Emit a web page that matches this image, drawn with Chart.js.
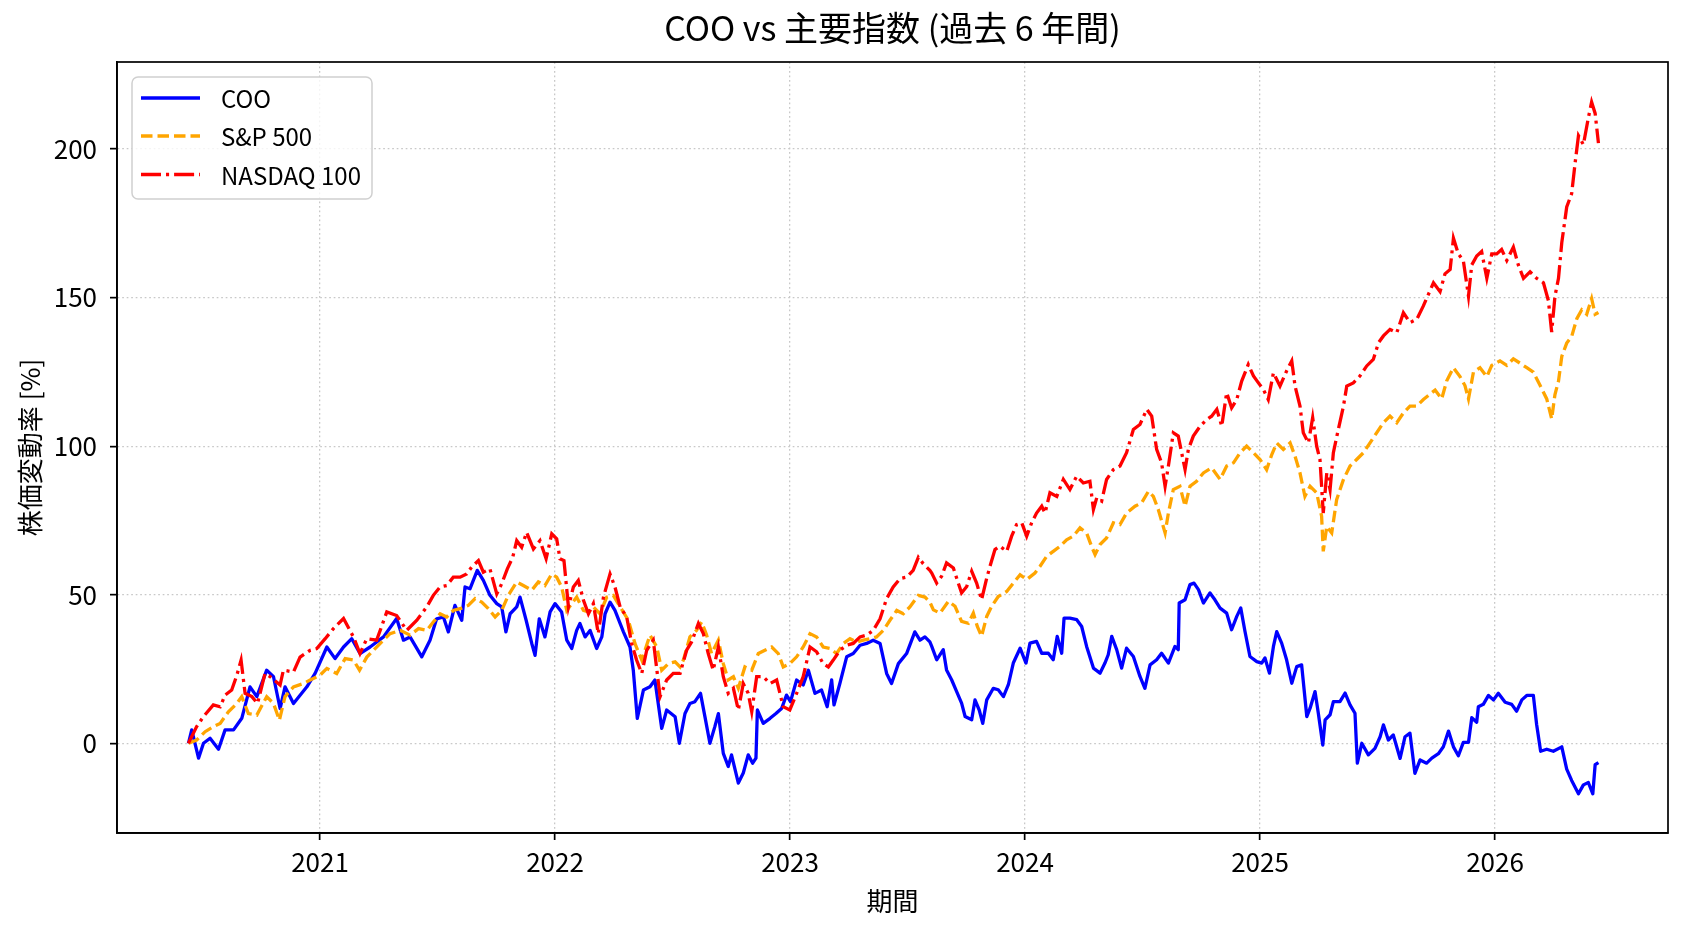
<!DOCTYPE html>
<html lang="ja">
<head>
<meta charset="utf-8">
<title>COO vs 主要指数</title>
<script src="https://cdn.jsdelivr.net/npm/chart.js@4.4.1/dist/chart.umd.min.js"></script>
<style>
  html, body { margin: 0; padding: 0; background: #fff; }
  #wrap { width: 1688px; height: 932px; position: relative; }
</style>
</head>
<body>
<div id="wrap"><canvas id="perfChart"></canvas></div>
<script>
// values: [decimal year, % change]
const seriesNames = ['COO', 'S&P 500', 'NASDAQ 100'];
const chartTitle = 'COO vs 主要指数 (過去 6 年間)';
const yearTicks = [2021, 2022, 2023, 2024, 2025, 2026];
const valueTicks = [0, 50, 100, 150, 200];

const cooData = [
  [2020.440, 0], [2020.454, 4.5], [2020.483, -5], [2020.504, 0], [2020.532, 1.7], [2020.568, -2],
  [2020.596, 4.5], [2020.632, 4.5], [2020.667, 8.4], [2020.702, 19], [2020.731, 15.7], [2020.773, 24.6],
  [2020.802, 22.4], [2020.830, 11.7], [2020.851, 19], [2020.887, 13.4], [2020.944, 19], [2020.979, 23.5],
  [2021.029, 32.4], [2021.064, 28.5], [2021.100, 32.4], [2021.135, 35.2], [2021.170, 30.2], [2021.213, 32.4],
  [2021.270, 35.8], [2021.326, 42], [2021.355, 34.7], [2021.383, 35.8], [2021.433, 29.1], [2021.468, 34.7],
  [2021.496, 41.9], [2021.525, 42.5], [2021.546, 37.5], [2021.574, 46.4], [2021.603, 41.4], [2021.617, 52.6],
  [2021.638, 52], [2021.669, 58.2], [2021.695, 54.8], [2021.723, 49.8], [2021.752, 47], [2021.773, 45.9],
  [2021.791, 37.5], [2021.809, 43.6], [2021.837, 45.9], [2021.851, 49.2], [2021.877, 41.4], [2021.901, 33.6],
  [2021.915, 29.6], [2021.933, 41.9], [2021.957, 35.8], [2021.979, 44.2], [2022.000, 47], [2022.028, 44.2],
  [2022.050, 34.7], [2022.071, 31.9], [2022.092, 38], [2022.106, 40.3], [2022.128, 35.8], [2022.149, 38],
  [2022.177, 31.9], [2022.199, 35.8], [2022.213, 43.6], [2022.234, 47.5], [2022.255, 44.7], [2022.291, 37.5],
  [2022.319, 32.4], [2022.333, 24.6], [2022.350, 8.4], [2022.376, 17.9], [2022.404, 19], [2022.425, 21.3],
  [2022.454, 5], [2022.475, 11.2], [2022.511, 8.9], [2022.529, 0], [2022.553, 10], [2022.574, 13.4],
  [2022.595, 14], [2022.619, 16.8], [2022.638, 8.9], [2022.659, 0], [2022.680, 5.6], [2022.695, 10],
  [2022.716, -3.4], [2022.737, -7.8], [2022.751, -3.9], [2022.780, -13.4], [2022.801, -10], [2022.822, -3.9],
  [2022.841, -6.7], [2022.855, -5], [2022.861, 11.2], [2022.886, 6.7], [2022.915, 8.4], [2022.940, 10],
  [2022.964, 11.7], [2022.985, 16.2], [2023.002, 14], [2023.028, 21.3], [2023.056, 19.6], [2023.078, 24.6],
  [2023.106, 16.8], [2023.134, 17.9], [2023.158, 12.3], [2023.177, 21.3], [2023.187, 12.9], [2023.212, 20.1],
  [2023.241, 29.1], [2023.269, 30.2], [2023.298, 33], [2023.326, 33.6], [2023.354, 34.7], [2023.383, 33.6],
  [2023.411, 23.5], [2023.432, 20.1], [2023.461, 26.8], [2023.496, 30.2], [2023.531, 37.5], [2023.553, 34.7],
  [2023.574, 35.8], [2023.595, 34.1], [2023.603, 32.6], [2023.624, 28.1], [2023.652, 31.5], [2023.666, 24.7],
  [2023.688, 21.3], [2023.709, 17.4], [2023.730, 13.5], [2023.745, 9], [2023.773, 7.9], [2023.787, 14.6],
  [2023.805, 11.2], [2023.820, 6.7], [2023.837, 14.6], [2023.865, 18.5], [2023.886, 18], [2023.908, 15.7],
  [2023.929, 19.7], [2023.950, 27], [2023.979, 32], [2024.004, 27], [2024.021, 33.7], [2024.049, 34.3],
  [2024.071, 30.3], [2024.099, 30.3], [2024.120, 28.1], [2024.137, 36], [2024.156, 30.3], [2024.166, 42.1],
  [2024.191, 42.1], [2024.220, 41.6], [2024.241, 39.3], [2024.262, 32.6], [2024.291, 25.3], [2024.319, 23.6],
  [2024.340, 27], [2024.354, 29.8], [2024.369, 36], [2024.390, 31.5], [2024.411, 25.3], [2024.432, 32],
  [2024.461, 29.2], [2024.489, 22.5], [2024.510, 18.5], [2024.532, 26.4], [2024.560, 28.1], [2024.581, 30.3],
  [2024.610, 27], [2024.638, 32.6], [2024.652, 31.5], [2024.656, 47.2], [2024.681, 48.3], [2024.702, 53.4],
  [2024.719, 53.9], [2024.738, 51.7], [2024.759, 47.2], [2024.787, 50.6], [2024.808, 48.3], [2024.830, 45.5],
  [2024.858, 43.8], [2024.879, 38.2], [2024.901, 42.7], [2024.918, 45.5], [2024.936, 37.6], [2024.957, 29.2],
  [2024.986, 27.5], [2025.007, 27], [2025.021, 28.7], [2025.040, 23.6], [2025.057, 32.6], [2025.071, 37.6],
  [2025.092, 33.7], [2025.113, 28.1], [2025.135, 20.2], [2025.156, 25.8], [2025.177, 26.4], [2025.199, 9],
  [2025.213, 11.8], [2025.234, 17.4], [2025.248, 10.1], [2025.267, -0.6], [2025.277, 7.9], [2025.298, 9.6],
  [2025.312, 14], [2025.340, 14], [2025.362, 16.9], [2025.383, 12.9], [2025.404, 10.1], [2025.414, -6.7],
  [2025.433, 0], [2025.461, -3.9], [2025.489, -1.7], [2025.511, 2.2], [2025.525, 6.2], [2025.546, 1.1],
  [2025.567, 2.8], [2025.596, -5.1], [2025.617, 2.2], [2025.638, 3.4], [2025.659, -10.1], [2025.681, -5.6],
  [2025.709, -6.7], [2025.731, -5], [2025.759, -3.5], [2025.780, -1.2], [2025.802, 4.1], [2025.823, -1.2],
  [2025.844, -4.2], [2025.865, 0.3], [2025.887, 0.3], [2025.901, 8.6], [2025.922, 7.1], [2025.929, 12.3],
  [2025.950, 13.1], [2025.972, 16.1], [2025.993, 14.6], [2026.014, 16.8], [2026.043, 13.8], [2026.071, 13.1],
  [2026.092, 10.8], [2026.114, 14.6], [2026.135, 16.1], [2026.163, 16.1], [2026.177, 6.3], [2026.194, -2.7],
  [2026.220, -2], [2026.248, -2.7], [2026.284, -1.2], [2026.305, -8.7], [2026.326, -12.5], [2026.355, -17],
  [2026.376, -14], [2026.397, -13.2], [2026.416, -17], [2026.426, -7.2], [2026.440, -6.5]
];

const spData = [
  [2020.440, 0], [2020.475, 1.1], [2020.511, 3.9], [2020.546, 5.6], [2020.575, 6.7], [2020.610, 10.6],
  [2020.646, 13.4], [2020.667, 15.7], [2020.695, 10], [2020.731, 9.5], [2020.773, 15.7], [2020.802, 13.4],
  [2020.827, 7.8], [2020.851, 15.7], [2020.887, 19], [2020.929, 20.1], [2020.958, 21.3], [2021.000, 22.9],
  [2021.029, 25.2], [2021.071, 23.5], [2021.107, 28.5], [2021.142, 28], [2021.168, 24.6], [2021.199, 29],
  [2021.227, 31.3], [2021.270, 34.7], [2021.298, 36.9], [2021.341, 38], [2021.383, 36.4], [2021.419, 38.6],
  [2021.454, 38], [2021.482, 40.8], [2021.511, 43.6], [2021.539, 42.5], [2021.567, 44.7], [2021.596, 45.3],
  [2021.631, 46.4], [2021.660, 48.7], [2021.688, 47.5], [2021.716, 45.3], [2021.745, 42.5], [2021.773, 44.7],
  [2021.801, 49.8], [2021.837, 54.3], [2021.865, 53.1], [2021.901, 51.5], [2021.929, 54.3], [2021.957, 53.1],
  [2021.986, 57], [2022.007, 55.9], [2022.028, 52.6], [2022.050, 44.7], [2022.071, 47], [2022.092, 49.2],
  [2022.121, 44.7], [2022.142, 44.2], [2022.163, 45.9], [2022.191, 43.6], [2022.220, 49.2], [2022.248, 49.8],
  [2022.277, 45.9], [2022.312, 41.4], [2022.340, 33.6], [2022.369, 28], [2022.404, 36.4], [2022.433, 32.4],
  [2022.454, 24.6], [2022.482, 26.8], [2022.511, 27.4], [2022.532, 25.7], [2022.546, 28], [2022.574, 35.8],
  [2022.602, 38], [2022.624, 40.8], [2022.645, 36.4], [2022.666, 30.2], [2022.695, 34.7], [2022.716, 26.8],
  [2022.737, 21.3], [2022.759, 22.4], [2022.780, 18.5], [2022.808, 25.7], [2022.837, 24.6], [2022.865, 30.2],
  [2022.893, 31.3], [2022.922, 32.4], [2022.950, 30.2], [2022.971, 25.7], [2022.999, 26.8], [2023.028, 29.1],
  [2023.056, 32.4], [2023.085, 36.9], [2023.113, 35.8], [2023.141, 32.4], [2023.170, 31.9], [2023.198, 30.2],
  [2023.227, 33.6], [2023.255, 35.2], [2023.283, 34.1], [2023.312, 34.7], [2023.340, 35.2], [2023.368, 35.8],
  [2023.397, 38], [2023.425, 41.4], [2023.454, 44.7], [2023.482, 43.6], [2023.510, 45.9], [2023.546, 49.8],
  [2023.574, 49.2], [2023.595, 47.5], [2023.610, 44.9], [2023.638, 43.8], [2023.674, 47.8], [2023.702, 46.1],
  [2023.730, 41], [2023.759, 40.4], [2023.780, 43.8], [2023.797, 39.3], [2023.815, 36], [2023.837, 42.7],
  [2023.858, 46.1], [2023.886, 49.4], [2023.922, 51.1], [2023.950, 53.9], [2023.979, 56.7], [2024.007, 55.1],
  [2024.042, 57.3], [2024.064, 59.6], [2024.092, 62.9], [2024.120, 64.6], [2024.149, 66.3], [2024.177, 68.5],
  [2024.205, 69.7], [2024.234, 72.5], [2024.262, 70.8], [2024.283, 66.3], [2024.298, 63.5], [2024.319, 66.9],
  [2024.347, 69.1], [2024.376, 74.2], [2024.404, 73.6], [2024.432, 77.5], [2024.468, 79.8], [2024.496, 80.9],
  [2024.525, 84.8], [2024.546, 83.1], [2024.567, 78.7], [2024.596, 70.8], [2024.610, 77.5], [2024.631, 85.4],
  [2024.659, 86.5], [2024.681, 79.8], [2024.702, 86.5], [2024.730, 88.2], [2024.759, 91], [2024.794, 92.7],
  [2024.830, 88.8], [2024.858, 93.3], [2024.887, 94.4], [2024.915, 97.8], [2024.943, 100], [2024.972, 97.8],
  [2025.000, 95.5], [2025.028, 92.1], [2025.050, 97.2], [2025.071, 101.1], [2025.099, 98.9], [2025.128, 101.1],
  [2025.149, 96.6], [2025.170, 91], [2025.191, 83.1], [2025.213, 86.5], [2025.241, 84.3], [2025.262, 76.4],
  [2025.269, 64.6], [2025.284, 73], [2025.305, 70.8], [2025.326, 82], [2025.355, 88.8], [2025.383, 93.3],
  [2025.411, 95.5], [2025.440, 97.8], [2025.468, 101.1], [2025.496, 104.5], [2025.525, 107.9], [2025.553, 110.1],
  [2025.582, 107.9], [2025.610, 111.2], [2025.638, 113.5], [2025.667, 113.5], [2025.695, 115.7], [2025.745, 118.9],
  [2025.773, 115.9], [2025.794, 121.9], [2025.823, 126.4], [2025.851, 123.4], [2025.872, 120.4], [2025.887, 115.9],
  [2025.908, 124.9], [2025.936, 126.4], [2025.965, 123.4], [2025.986, 127.2], [2026.021, 128.7], [2026.050, 127.2],
  [2026.078, 129.4], [2026.107, 127.9], [2026.135, 126.4], [2026.163, 124.9], [2026.192, 120.4], [2026.220, 115.9],
  [2026.241, 109.2], [2026.255, 117.4], [2026.270, 121.9], [2026.284, 130.2], [2026.305, 134.7], [2026.326, 136.9],
  [2026.348, 142.9], [2026.369, 145.9], [2026.390, 144.4], [2026.411, 149.7], [2026.426, 144.4], [2026.440, 145]
];

const ndxData = [
  [2020.440, 0], [2020.475, 5.6], [2020.504, 9], [2020.546, 12.9], [2020.575, 12.3], [2020.596, 16.2],
  [2020.624, 17.9], [2020.646, 22.9], [2020.664, 28], [2020.681, 16.8], [2020.710, 15.7], [2020.734, 13.4],
  [2020.766, 23.5], [2020.788, 22.4], [2020.830, 19.6], [2020.844, 24.6], [2020.887, 24], [2020.915, 29],
  [2020.958, 31.3], [2020.986, 31.9], [2021.022, 35.2], [2021.057, 38.6], [2021.100, 42], [2021.142, 35.8],
  [2021.170, 30.2], [2021.199, 35.2], [2021.241, 34.7], [2021.284, 44.2], [2021.326, 43], [2021.369, 38],
  [2021.412, 41.4], [2021.454, 45.9], [2021.482, 49.8], [2021.511, 52.6], [2021.539, 53.1], [2021.567, 55.9],
  [2021.596, 55.9], [2021.624, 57], [2021.645, 59.3], [2021.674, 61.5], [2021.695, 57.6], [2021.723, 58.7],
  [2021.752, 50.3], [2021.773, 53.7], [2021.797, 58.7], [2021.820, 62.6], [2021.837, 68.2], [2021.858, 66],
  [2021.879, 71], [2021.908, 65.4], [2021.936, 68.2], [2021.962, 62.1], [2021.986, 70.5], [2022.007, 68.8],
  [2022.021, 62.1], [2022.038, 61.5], [2022.057, 45.9], [2022.078, 52.6], [2022.099, 54.8], [2022.121, 48.1],
  [2022.142, 43.6], [2022.163, 47], [2022.184, 36.9], [2022.206, 49.2], [2022.234, 57], [2022.255, 52.6],
  [2022.277, 45.9], [2022.305, 42.5], [2022.326, 33.6], [2022.347, 28], [2022.369, 23.5], [2022.390, 31.3],
  [2022.418, 34.7], [2022.447, 15.7], [2022.475, 21.3], [2022.503, 23.5], [2022.532, 23.5], [2022.560, 31.3],
  [2022.581, 34.1], [2022.610, 40.3], [2022.631, 36.9], [2022.652, 30.2], [2022.673, 24.6], [2022.695, 32.4],
  [2022.716, 22.4], [2022.737, 16.8], [2022.759, 18.5], [2022.780, 11.2], [2022.801, 20.1], [2022.822, 16.8],
  [2022.837, 10.6], [2022.858, 22.4], [2022.886, 22.4], [2022.915, 20.1], [2022.943, 21.3], [2022.971, 12.3],
  [2022.999, 11.2], [2023.028, 16.8], [2023.056, 22.4], [2023.085, 32.4], [2023.113, 30.8], [2023.141, 26.8],
  [2023.163, 25.7], [2023.184, 28], [2023.212, 31.3], [2023.241, 33], [2023.269, 33.6], [2023.298, 35.8],
  [2023.326, 36.4], [2023.354, 38], [2023.383, 41.9], [2023.411, 48.7], [2023.439, 52.6], [2023.468, 55.4],
  [2023.496, 55.9], [2023.524, 58.2], [2023.546, 62.6], [2023.567, 60.4], [2023.595, 58.2], [2023.603, 57.3],
  [2023.624, 53.9], [2023.645, 56.2], [2023.666, 60.7], [2023.695, 59], [2023.716, 53.9], [2023.730, 50.6],
  [2023.752, 52.8], [2023.773, 57.9], [2023.794, 53.9], [2023.815, 48.3], [2023.837, 55.6], [2023.851, 59.6],
  [2023.872, 65.2], [2023.893, 66.3], [2023.922, 64.6], [2023.943, 69.7], [2023.964, 73.6], [2023.986, 74.2],
  [2024.007, 69.7], [2024.028, 74.2], [2024.049, 77.5], [2024.071, 79.8], [2024.085, 77.5], [2024.106, 84.3],
  [2024.135, 83.1], [2024.163, 88.8], [2024.191, 85.4], [2024.220, 89.9], [2024.248, 87.6], [2024.276, 88.2],
  [2024.291, 78.7], [2024.305, 82.6], [2024.326, 81.5], [2024.347, 88.8], [2024.376, 92.1], [2024.404, 93.3],
  [2024.432, 97.8], [2024.461, 105.6], [2024.489, 107.3], [2024.518, 112.4], [2024.539, 110.1], [2024.560, 98.9],
  [2024.581, 94.4], [2024.596, 86.5], [2024.610, 93.3], [2024.631, 104.5], [2024.652, 103.4], [2024.681, 92.1],
  [2024.695, 98.9], [2024.716, 103.4], [2024.745, 106.7], [2024.773, 109], [2024.794, 110.1], [2024.816, 112.4],
  [2024.837, 106.7], [2024.858, 118], [2024.879, 112.9], [2024.901, 115.7], [2024.922, 121.9], [2024.950, 127.5],
  [2024.972, 123.6], [2024.993, 121.3], [2025.014, 119.1], [2025.035, 115.7], [2025.057, 124.7], [2025.085, 120.2],
  [2025.113, 125.3], [2025.135, 128.7], [2025.149, 120.2], [2025.170, 113.5], [2025.184, 104.5], [2025.206, 101.1],
  [2025.224, 109.6], [2025.241, 100], [2025.255, 95.5], [2025.269, 77.5], [2025.284, 91], [2025.298, 85.4],
  [2025.312, 97.8], [2025.333, 105.6], [2025.355, 113.5], [2025.369, 120.2], [2025.397, 121.3], [2025.425, 123.6],
  [2025.454, 127], [2025.482, 129.2], [2025.504, 134.8], [2025.525, 137.1], [2025.553, 139.3], [2025.582, 138.2],
  [2025.610, 144.9], [2025.638, 141.6], [2025.667, 142.7], [2025.695, 147.2], [2025.738, 155], [2025.766, 152],
  [2025.787, 158], [2025.809, 159.5], [2025.823, 170], [2025.844, 164.7], [2025.865, 162.5], [2025.887, 150.5],
  [2025.901, 161], [2025.922, 164], [2025.943, 165.5], [2025.965, 156.5], [2025.986, 164.7], [2026.007, 164.7],
  [2026.028, 166.2], [2026.050, 162.5], [2026.078, 167], [2026.099, 161], [2026.121, 156.5], [2026.149, 158.7],
  [2026.177, 156.5], [2026.206, 155], [2026.227, 149], [2026.241, 138.4], [2026.255, 150.5], [2026.270, 156.5],
  [2026.284, 168.5], [2026.305, 180.5], [2026.326, 185], [2026.341, 195.5], [2026.355, 204.5], [2026.376, 201.5],
  [2026.397, 210.5], [2026.411, 215.8], [2026.426, 212], [2026.440, 202]
];

const FONT = "'Liberation Sans Narrow', 'Noto Sans CJK JP', sans-serif";
const LW = 3.3;

Chart.defaults.font.family = FONT;
Chart.defaults.color = '#000';

function toPoints(rows) {
  return rows.map(r => ({ x: r[0], y: r[1] }));
}

// title centred over the axes, frame on four sides, boxed legend
const mplDecor = {
  id: 'mplDecor',
  afterDraw(chart) {
    const { ctx, chartArea } = chart;
    ctx.save();
    ctx.strokeStyle = '#000';
    ctx.lineWidth = 1.7;
    ctx.strokeRect(chartArea.left, chartArea.top, chartArea.right - chartArea.left, chartArea.bottom - chartArea.top);

    ctx.fillStyle = '#000';
    ctx.font = '34px ' + FONT;
    ctx.textAlign = 'center';
    ctx.textBaseline = 'middle';
    ctx.fillText(chartTitle, (chartArea.left + chartArea.right) / 2, 28);

    const bx = chartArea.left + 15, by = chartArea.top + 15, bw = 240, bh = 122, r = 6;
    ctx.beginPath();
    ctx.moveTo(bx + r, by);
    ctx.arcTo(bx + bw, by, bx + bw, by + bh, r);
    ctx.arcTo(bx + bw, by + bh, bx, by + bh, r);
    ctx.arcTo(bx, by + bh, bx, by, r);
    ctx.arcTo(bx, by, bx + bw, by, r);
    ctx.closePath();
    ctx.fillStyle = 'rgba(255,255,255,0.8)';
    ctx.fill();
    ctx.strokeStyle = '#d0d0d0';
    ctx.lineWidth = 1.5;
    ctx.stroke();

    const rows = [21, 59, 97.5];
    ctx.font = '24px ' + FONT;
    ctx.textAlign = 'left';
    chart.data.datasets.forEach((ds, i) => {
      const y = by + rows[i];
      ctx.setLineDash(ds.borderDash || []);
      ctx.strokeStyle = ds.borderColor;
      ctx.lineWidth = LW;
      ctx.beginPath();
      ctx.moveTo(bx + 9, y);
      ctx.lineTo(bx + 68, y);
      ctx.stroke();
      ctx.setLineDash([]);
      ctx.fillStyle = '#000';
      ctx.fillText(ds.label, bx + 89, y + 1);
    });
    ctx.restore();
  }
};

new Chart(document.getElementById('perfChart'), {
  type: 'line',
  data: {
    datasets: [
      {
        label: seriesNames[0], data: toPoints(cooData),
        borderColor: '#0000ff', borderWidth: LW, borderJoinStyle: 'round', order: 2
      },
      {
        label: seriesNames[1], data: toPoints(spData),
        borderColor: '#ffa500', borderWidth: LW, borderDash: [11.5, 5], order: 1
      },
      {
        label: seriesNames[2], data: toPoints(ndxData),
        borderColor: '#ff0000', borderWidth: LW, borderDash: [20, 5, 3.1, 5], order: 0
      }
    ]
  },
  options: {
    responsive: true,
    maintainAspectRatio: false,
    animation: false,
    elements: { point: { radius: 0, hoverRadius: 0 }, line: { tension: 0 } },
    layout: { padding: { left: 0, right: 20, top: 62, bottom: 0 } },
    plugins: {
      legend: { display: false },
      tooltip: { enabled: false },
      title: { display: false }
    },
    scales: {
      x: {
        type: 'linear',
        min: 2020.136,
        max: 2026.736,
        afterFit(scale) { scale.height = 99; },
        afterBuildTicks(scale) { scale.ticks = yearTicks.map(v => ({ value: v })); },
        ticks: {
          autoSkip: false, maxRotation: 0, padding: 7,
          font: { size: 26 },
          callback: v => String(v)
        },
        grid: {
          color: '#c8c8c8', lineWidth: 1.3,
          tickColor: '#000', tickLength: 7, tickWidth: 1.7, tickBorderDash: []
        },
        border: { display: true, color: '#000', width: 1.7, dash: [1.7, 2.8] },
        title: {
          display: true, text: '期間',
          font: { size: 26, lineHeight: 1.2 },
          padding: { top: 0, bottom: 15 }
        }
      },
      y: {
        type: 'linear',
        min: -30.2,
        max: 229.3,
        afterFit(scale) { scale.width = 117; },
        afterBuildTicks(scale) { scale.ticks = valueTicks.map(v => ({ value: v })); },
        ticks: {
          autoSkip: false, padding: 13,
          font: { size: 26 },
          callback: v => String(v)
        },
        grid: {
          color: '#c8c8c8', lineWidth: 1.3,
          tickColor: '#000', tickLength: 7, tickWidth: 1.7, tickBorderDash: []
        },
        border: { display: true, color: '#000', width: 1.7, dash: [1.7, 2.8] },
        title: {
          display: true, text: '株価変動率 [%]',
          font: { size: 26, lineHeight: 1.2 },
          padding: { top: 15, bottom: 0 }
        }
      }
    }
  },
  plugins: [mplDecor]
});
</script>
</body>
</html>
